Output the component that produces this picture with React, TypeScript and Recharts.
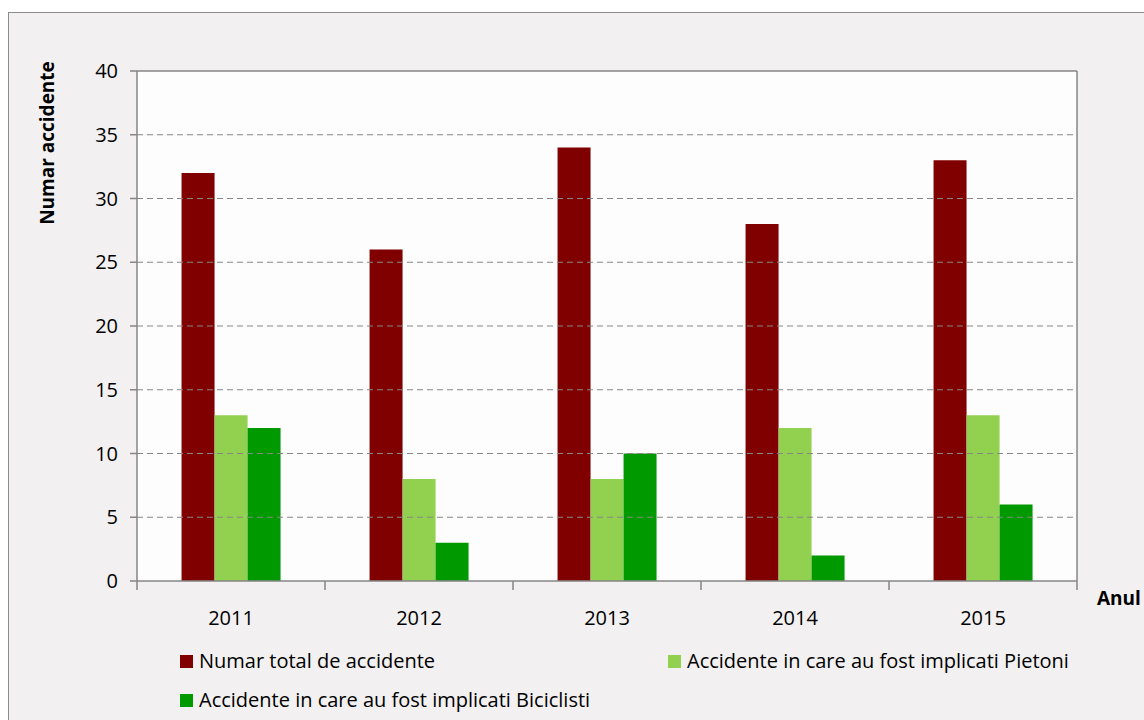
import { BarChart, Bar, XAxis, YAxis, CartesianGrid, ReferenceLine } from "recharts";

const years = ["2011", "2012", "2013", "2014", "2015"];
const totalAccidents = [32, 26, 34, 28, 33];
const pedestrianAccidents = [13, 8, 8, 12, 13];
const cyclistAccidents = [12, 3, 10, 2, 6];
const yTicks = [0, 5, 10, 15, 20, 25, 30, 35, 40];
const gridTicks = [5, 10, 15, 20, 25, 30, 35];

const SERIES = [
  { key: "total", name: "Numar total de accidente", color: "#800000" },
  { key: "pietoni", name: "Accidente in care au fost implicati Pietoni", color: "#92d050" },
  { key: "biciclisti", name: "Accidente in care au fost implicati Biciclisti", color: "#009900" },
];

const data = years.map((y, i) => ({
  year: y,
  total: totalAccidents[i],
  pietoni: pedestrianAccidents[i],
  biciclisti: cyclistAccidents[i],
}));

const FONT = "'Open Sans', Lato, sans-serif";
const FS = 20;
const AXIS_GRAY = "#868686";

// category label plus boundary tick marks between categories
function YearTick(props: any) {
  const { x, y, payload, index } = props;
  const half = payload?.offset ?? 94;
  const last = index === years.length - 1;
  return (
    <g>
      <line x1={x - half} x2={x - half} y1={y} y2={y + 9} stroke={AXIS_GRAY} strokeWidth={1.5} />
      {last && (
        <line x1={x + half} x2={x + half} y1={y - 510} y2={y + 9} stroke={AXIS_GRAY} strokeWidth={1.5} />
      )}
      <text x={x} y={y + 44} textAnchor="middle" fontSize={FS} fontFamily={FONT} fill="#000">
        {payload.value}
      </text>
    </g>
  );
}

export default function App() {
  const tick = { fontSize: FS, fill: "#000", fontFamily: FONT };
  return (
    <div
      style={{
        position: "fixed",
        left: 0,
        top: 0,
        width: 1144,
        height: 720,
        overflow: "hidden",
        background: "#fff",
        fontFamily: FONT,
      }}
    >
      <div
        style={{
          position: "absolute",
          left: 8,
          top: 12,
          width: 1160,
          height: 740,
          border: "1px solid #8c8c8c",
          background: "#f2f0f1",
        }}
      />
      <div style={{ position: "absolute", left: 0, top: 0 }}>
        <BarChart
          width={1144}
          height={720}
          data={data}
          margin={{ top: 71, right: 67, left: 77, bottom: 99 }}
          barCategoryGap="23.7%"
          barGap={0}
        >
          <CartesianGrid fill="#fdfdfd" horizontal={false} vertical={false} />
          {gridTicks.map((v) => (
            <ReferenceLine key={v} y={v} stroke={AXIS_GRAY} strokeDasharray="6 4" />
          ))}
          <ReferenceLine y={40} stroke={AXIS_GRAY} strokeWidth={1.5} />
          <XAxis
            dataKey="year"
            height={40}
            axisLine={{ stroke: AXIS_GRAY, strokeWidth: 1.5 }}
            tickLine={false}
            tickSize={0}
            tickMargin={0}
            tick={<YearTick />}
            interval={0}
          />
          <YAxis
            width={60}
            domain={[0, 40]}
            ticks={yTicks}
            interval={0}
            tickSize={7}
            tickMargin={12}
            tick={tick}
            axisLine={{ stroke: AXIS_GRAY, strokeWidth: 1.5 }}
            tickLine={{ stroke: AXIS_GRAY, strokeWidth: 1.5 }}
          />
          {SERIES.map((s) => (
            <Bar key={s.key} dataKey={s.key} name={s.name} fill={s.color} isAnimationActive={false} />
          ))}
        </BarChart>
      </div>
      <div
        style={{
          position: "absolute",
          left: 47 - 100,
          top: 143 - 12,
          width: 200,
          textAlign: "center",
          transform: "rotate(-90deg)",
          fontWeight: "bold",
          fontSize: 19,
          lineHeight: "24px",
        }}
      >
        Numar accidente
      </div>
      <div
        style={{
          position: "absolute",
          left: 1097,
          top: 586,
          fontWeight: "bold",
          fontSize: 19,
          lineHeight: "24px",
        }}
      >
        Anul
      </div>
      {SERIES.map((s, i) => {
        const pos = [
          { left: 180, top: 649 },
          { left: 668, top: 649 },
          { left: 180, top: 688 },
        ][i];
        return (
          <div
            key={s.key}
            style={{
              position: "absolute",
              left: pos.left,
              top: pos.top,
              display: "flex",
              alignItems: "center",
              fontSize: FS,
              lineHeight: "24px",
              whiteSpace: "nowrap",
            }}
          >
            <span
              style={{
                display: "inline-block",
                width: 13,
                height: 13,
                background: s.color,
                marginRight: 6,
              }}
            />
            {s.name}
          </div>
        );
      })}
    </div>
  );
}
